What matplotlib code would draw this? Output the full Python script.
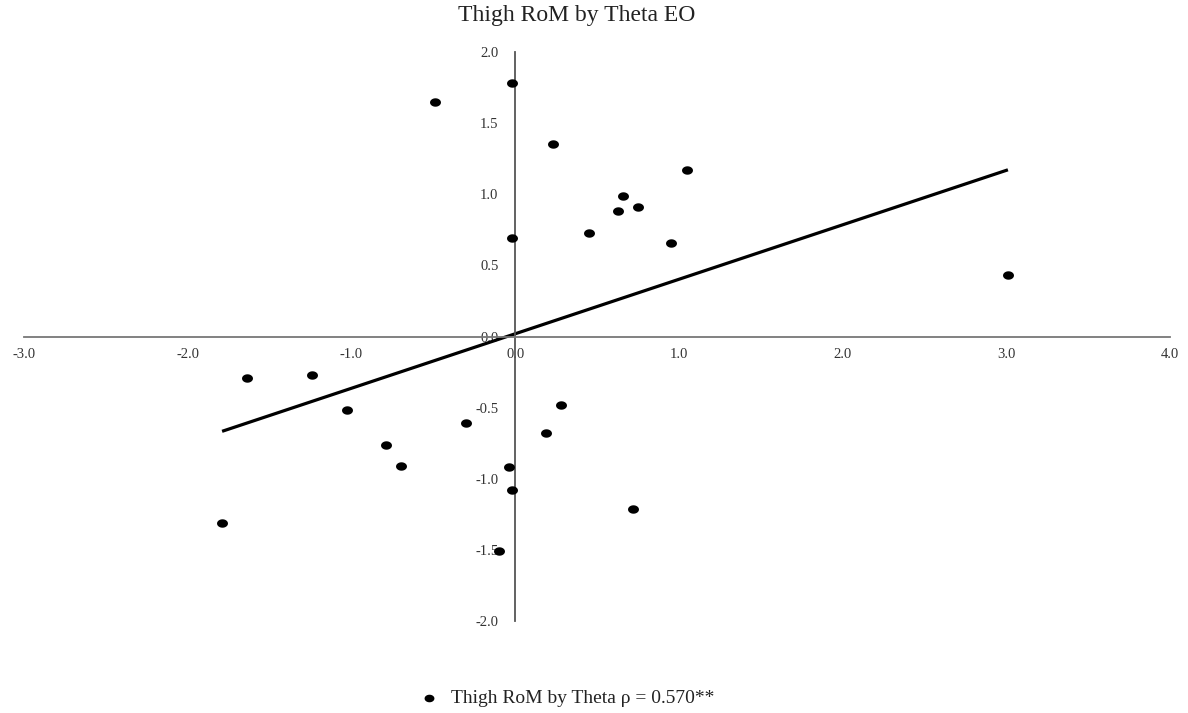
import numpy as np
import matplotlib
matplotlib.use("Agg")
import matplotlib.pyplot as plt
from matplotlib.path import Path

# ---- data ----
theta = [-0.49, -0.02, 0.23, 1.05, 0.66, 0.63, 0.75, 0.45, -0.02, 0.95, 3.01,
         -1.64, -1.24, -1.03, 0.28, -0.30, 0.19, -0.79, -0.70, -0.04, -0.02,
         0.72, -1.79, -0.10]
thigh_rom = [1.65, 1.78, 1.35, 1.17, 0.99, 0.88, 0.91, 0.73, 0.69, 0.66, 0.43,
             -0.29, -0.27, -0.52, -0.48, -0.61, -0.68, -0.76, -0.91, -0.92, -1.08,
             -1.21, -1.31, -1.51]
trend_slope = 0.383
trend_intercept = 0.019
x_ticks = [-3.0, -2.0, -1.0, 0.0, 1.0, 2.0, 3.0, 4.0]
y_ticks = [-2.0, -1.5, -1.0, -0.5, 0.0, 0.5, 1.0, 1.5, 2.0]
title = "Thigh RoM by Theta EO"
legend_label = "Thigh RoM by Theta \u03c1 = 0.570**"

plt.rcParams['font.family'] = ['Liberation Serif', 'DejaVu Serif']

fig = plt.figure(figsize=(11.88, 7.13), dpi=100)
ax = fig.add_axes([24/1188, (713-621)/713, 1146/1188, 569/713])

# slightly wide elliptical dot (reference is horizontally stretched)
t = np.linspace(0, 2*np.pi, 60)
ell = Path(np.column_stack([1.3*np.cos(t), np.sin(t)]), closed=True)

ax.scatter(theta, thigh_rom, marker=ell, s=62, color='black', zorder=3,
           label=legend_label, linewidths=0)

tx = np.array([min(theta), max(theta)])
ax.plot(tx, trend_slope*tx + trend_intercept, color='black', lw=2.3, zorder=2,
        solid_capstyle='butt')

ax.set_xlim(x_ticks[0], x_ticks[-1])
ax.set_ylim(y_ticks[0], y_ticks[-1])
ax.set_xticks(x_ticks)
ax.set_yticks(y_ticks)
ax.set_xticklabels([f"{v:.1f}" for v in x_ticks])
ax.set_yticklabels([f"{v:.1f}" for v in y_ticks])

for s in ['top', 'right']:
    ax.spines[s].set_visible(False)
ax.spines['left'].set_position(('data', 0))
ax.spines['bottom'].set_position(('data', 0))
ax.spines['left'].set_color('#555555')
ax.spines['bottom'].set_color('#777777')
ax.spines['left'].set_linewidth(1.3)
ax.spines['bottom'].set_linewidth(1.3)

ax.tick_params(axis='both', length=0, labelsize=10.5, colors='#333333')
ax.tick_params(axis='x', pad=8)
ax.tick_params(axis='y', pad=12)

fig.text(577/1188, 1 - 16/713, title, ha='center', va='center', fontsize=17,
         color='#222222')

leg = fig.legend(loc='center', bbox_to_anchor=(562/1188, 15/713), frameon=False,
                 fontsize=14, handletextpad=0.1, markerscale=0.9)
for txt in leg.get_texts():
    txt.set_color('#222222')

fig.savefig("out.png", dpi=100)
